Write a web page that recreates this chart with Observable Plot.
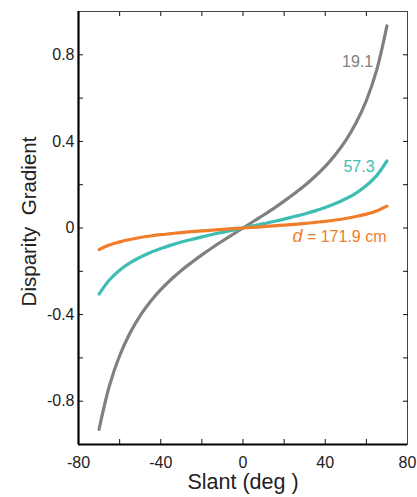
<!DOCTYPE html>
<html>
<head>
<meta charset="utf-8">
<script src="https://cdn.jsdelivr.net/npm/d3@7"></script>
<script src="https://cdn.jsdelivr.net/npm/@observablehq/plot@0.6"></script>
<style>
  html, body { margin: 0; padding: 0; background: #fff; }
  #chart svg { display: block; }
</style>
</head>
<body>
<div id="chart"></div>
<script>
// Slant angles (deg)
const slant = [-70,-65,-60,-55,-50,-45,-40,-35,-30,-25,-20,-15,-10,-5,0,5,10,15,20,25,30,35,40,45,50,55,60,65,70];
// Disparity gradient per viewing distance
const grad191 = [-0.93,-0.73,-0.59,-0.486,-0.405,-0.34,-0.285,-0.238,-0.196,-0.159,-0.124,-0.091,-0.06,-0.03,0,0.03,0.06,0.091,0.124,0.159,0.196,0.238,0.285,0.34,0.405,0.486,0.589,0.729,0.934];
const grad573 = [-0.305,-0.24,-0.195,-0.161,-0.135,-0.113,-0.095,-0.079,-0.065,-0.053,-0.041,-0.03,-0.02,-0.01,0,0.01,0.02,0.03,0.041,0.053,0.065,0.079,0.095,0.113,0.135,0.161,0.196,0.242,0.31];
const grad1719 = [-0.1,-0.079,-0.064,-0.053,-0.044,-0.037,-0.031,-0.026,-0.021,-0.017,-0.0135,-0.01,-0.0065,-0.003,0,0.003,0.0065,0.01,0.0135,0.017,0.021,0.026,0.031,0.037,0.044,0.053,0.064,0.079,0.101];
const seriesNames = ["19.1", "57.3", "171.9"];
const seriesColors = ["#808080", "#3ebdb4", "#f07d2c"];
// Curve labels
const labelText = ["19.1", "57.3", "d = 171.9 cm"];
const labelX = [63.3, 64.0, 69.8];
const labelY = [0.743, 0.258, -0.066];
// Ticks
const xTickLabels = [-80, -40, 0, 40, 80];
const xTickMarks = [-60, -40, -20, 0, 20, 40, 60];
const yTickLabels = [-0.8, -0.4, 0, 0.4, 0.8];
const yTickMarks = [-0.8, -0.6, -0.4, -0.2, 0, 0.2, 0.4, 0.6, 0.8];

const allSeries = [grad191, grad573, grad1719];
const rows = [];
allSeries.forEach((vals, si) => {
  slant.forEach((s, i) => rows.push({series: seriesNames[si], slant: s, g: vals[i]}));
});
const labels = labelText.map((t, i) => ({text: t, x: labelX[i], y: labelY[i], color: seriesColors[i]}));

const font = "'Liberation Sans', Arial, Helvetica, sans-serif";

const chart = Plot.plot({
  width: 417,
  height: 497,
  marginLeft: 78,
  marginRight: 10,
  marginTop: 11,
  marginBottom: 53,
  style: {fontFamily: font, fontSize: "16px", color: "#222", background: "#fff"},
  x: {domain: [-80, 80]},
  y: {domain: [-1, 1]},
  color: {domain: seriesNames, range: seriesColors},
  marks: [
    Plot.frame({stroke: "#444", strokeWidth: 1}),
    // inward tick marks
    Plot.axisX(xTickMarks, {anchor: "bottom", tickSize: -5, fill: "none", label: null, stroke: "#111"}),
    Plot.axisX(xTickMarks, {anchor: "top", tickSize: -4, fill: "none", label: null, stroke: "#111"}),
    Plot.axisY(yTickMarks, {anchor: "left", tickSize: -5, fill: "none", label: null, stroke: "#111"}),
    Plot.axisY(yTickMarks, {anchor: "right", tickSize: -5, fill: "none", label: null, stroke: "#111"}),
    // tick labels
    Plot.axisX(xTickLabels, {anchor: "bottom", tickSize: 0, tickPadding: 12, label: null, fontSize: 16, tickFormat: d => String(d)}),
    Plot.axisY(yTickLabels, {anchor: "left", tickSize: 0, tickPadding: 4, label: null, fontSize: 16, tickFormat: d => String(d)}),
    // heavier left and bottom spines
    Plot.ruleX([-80], {stroke: "#000", strokeWidth: 2.2}),
    Plot.ruleY([-1], {stroke: "#000", strokeWidth: 2.2}),
    // curves
    Plot.line(rows, {x: "slant", y: "g", z: "series", stroke: "series", strokeWidth: 3.2, curve: "catmull-rom"}),
    // curve labels
    Plot.text(labels, {x: "x", y: "y", text: "text", fill: "color", textAnchor: "end", lineAnchor: "bottom", fontSize: 16}),
    // axis titles
    Plot.text(["Slant (deg )"], {frameAnchor: "bottom", dy: 44, lineAnchor: "bottom", fontSize: 21.5, fill: "#222"}),
    Plot.text(["Disparity\u00a0\u00a0Gradient"], {frameAnchor: "left", rotate: -90, dx: -43, dy: -6.5, lineAnchor: "bottom", textAnchor: "middle", fontSize: 20.5, fill: "#222"})
  ]
});

// italic "d" in the distance label
d3.select(chart).selectAll("text").each(function() {
  if (this.textContent === "d = 171.9 cm") {
    const t = d3.select(this);
    t.text(null);
    t.append("tspan").attr("font-style", "italic").attr("font-size", "18px").text("d");
    t.append("tspan").text(" = 171.9 cm");
  }
});

document.getElementById("chart").appendChild(chart);
</script>
</body>
</html>
